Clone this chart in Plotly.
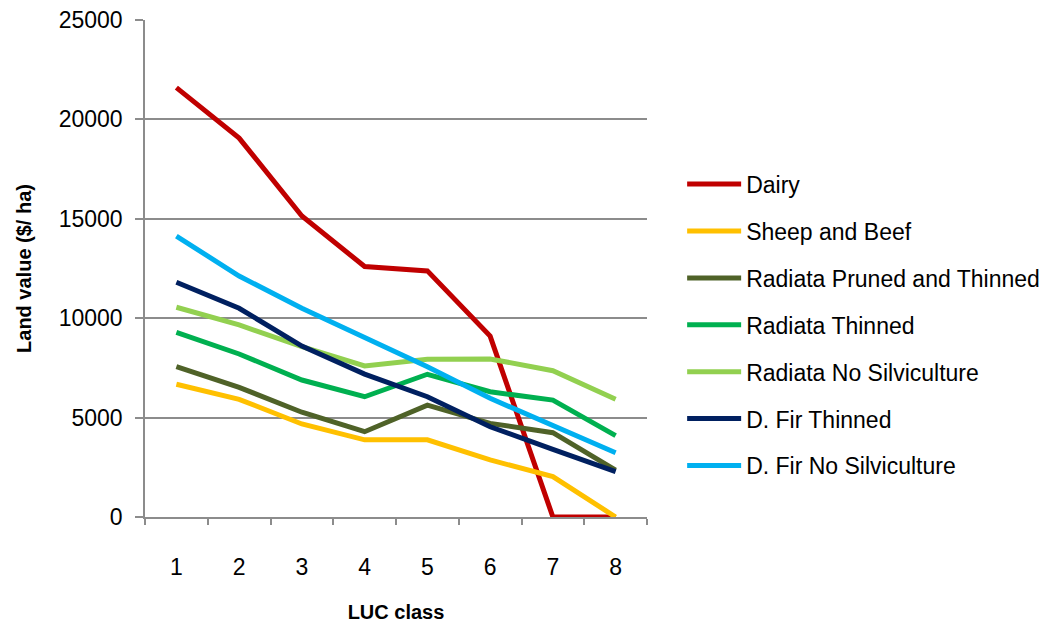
import plotly.graph_objects as go

luc_class = [1, 2, 3, 4, 5, 6, 7, 8]
dairy = [21600, 19060, 15140, 12600, 12380, 9100, 0, 0]
sheep_beef = [6680, 5920, 4680, 3880, 3880, 2870, 2030, 0]
radiata_pruned_thinned = [7560, 6520, 5270, 4290, 5630, 4710, 4240, 2360]
radiata_thinned = [9290, 8200, 6890, 6050, 7180, 6300, 5880, 4090]
radiata_no_silv = [10550, 9660, 8570, 7600, 7930, 7950, 7360, 5920]
dfir_thinned = [11810, 10500, 8600, 7190, 6050, 4540, 3400, 2280]
dfir_no_silv = [14130, 12120, 10500, 9040, 7560, 5970, 4630, 3230]

series = [
    ("Dairy", dairy, "#C00000"),
    ("Sheep and Beef", sheep_beef, "#FFC000"),
    ("Radiata Pruned and Thinned", radiata_pruned_thinned, "#4F6228"),
    ("Radiata Thinned", radiata_thinned, "#00B050"),
    ("Radiata No Silviculture", radiata_no_silv, "#92D050"),
    ("D. Fir Thinned", dfir_thinned, "#002060"),
    ("D. Fir No Silviculture", dfir_no_silv, "#00B0F0"),
]

FONT = "Liberation Sans, Arial, sans-serif"

fig = go.Figure()
for name, vals, color in series:
    fig.add_trace(go.Scatter(
        x=luc_class, y=vals, name=name, mode="lines",
        line=dict(color=color, width=5),
        legendgroup=name,
    ))

fig.update_layout(
    width=1041, height=623,
    margin=dict(l=145, r=394, t=20, b=106, autoexpand=False),
    paper_bgcolor="white", plot_bgcolor="white",
    font=dict(family=FONT, size=23, color="black"),
    showlegend=True,
    legend=dict(
        x=1.07, y=0.713, xanchor="left", yanchor="top",
        font=dict(family=FONT, size=23, color="black"),
        tracegroupgap=14, itemwidth=54,
        bgcolor="rgba(0,0,0,0)",
    ),
    xaxis=dict(
        range=[0.5, 8.5], automargin=False,
        tickmode="array", tickvals=luc_class,
        ticks="", showgrid=False, zeroline=False,
        showline=True, linecolor="#8C8C8C", linewidth=1.5,
        ticklabelstandoff=29,
        tickfont=dict(family=FONT, size=23),
        minor=dict(tickmode="linear", tick0=0.5, dtick=1, ticks="outside",
                   ticklen=6, tickwidth=1.5, tickcolor="#8C8C8C", showgrid=False),
        title=dict(text="<b>LUC class</b>", font=dict(family=FONT, size=20), standoff=34),
    ),
    yaxis=dict(
        range=[0, 25000], tickmode="linear", tick0=0, dtick=5000, tickformat="d",
        automargin=False,
        ticks="outside", ticklen=8, tickwidth=1.5, tickcolor="#8C8C8C",
        showgrid=True, gridcolor="#8C8C8C", gridwidth=1.5,
        zeroline=False, showline=True, linecolor="#8C8C8C", linewidth=1.5,
        tickfont=dict(family=FONT, size=23),
        ticklabelstandoff=8,
        title=dict(text="<b>Land value ($/ ha)</b>", font=dict(family=FONT, size=20), standoff=22),
    ),
)

fig.write_html("out.html")
